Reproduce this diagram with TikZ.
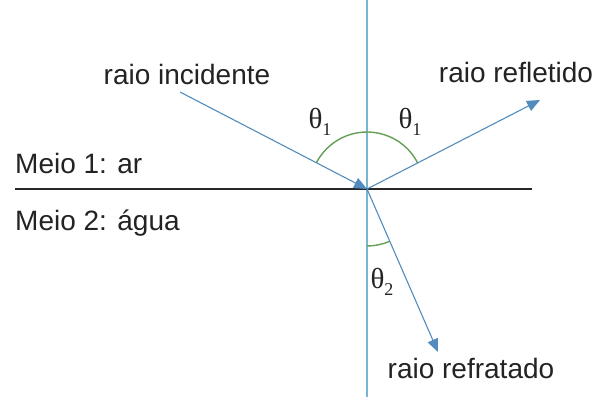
\documentclass[tikz,border=0pt]{standalone}
\usepackage{fontspec}
\setmainfont{Liberation Sans}
\newfontfamily\thserif{Liberation Serif}
\usetikzlibrary{arrows.meta}
\definecolor{raycol}{RGB}{82,140,190}
\definecolor{normcol}{RGB}{120,180,212}
\definecolor{arccol}{RGB}{100,160,85}
\definecolor{txtcol}{RGB}{35,35,35}
\newcommand{\thsym}[1]{{\thserif\fontsize{29}{29}\selectfont θ\raisebox{-0.25em}{\fontsize{18}{18}\selectfont #1}}}
\begin{document}
\begin{tikzpicture}[x=1pt,y=1pt,
  ray/.style={draw=raycol,line width=1.1pt,-{Triangle[length=13pt,width=11pt]}},
  lbl/.style={font=\fontsize{28}{28}\selectfont,text=txtcol,inner sep=0pt,anchor=base},
  thlbl/.style={text=txtcol,inner sep=0pt,anchor=base},
  angarc/.style={draw=arccol,line width=1.4pt}]
\useasboundingbox (0,0) rectangle (599,397);
\fill[white] (0,0) rectangle (599,397);
\coordinate (O) at (367,208);
\coordinate (Itop) at (367,397);
\coordinate (Ibot) at (367,0);
\coordinate (L) at (15,208);
\coordinate (R) at (532,208);
\coordinate (Ain) at (180,305);
\coordinate (Aref) at (540,297);
\coordinate (Afr) at (438,45);
% normal
\draw[normcol,line width=1.1pt] (Itop) -- (Ibot);
% interface
\draw[black!85,line width=2.6pt] (L) -- (R);
% arcs
\draw[angarc] ([shift={(27.2:57)}]O) arc[start angle=27.2,end angle=152.6,radius=57];
\draw[angarc] ([shift={(-90:57)}]O) arc[start angle=-90,end angle=-66.5,radius=57];
% rays
\draw[ray] (Ain) -- (O);
\draw[ray] (O) -- (Aref);
\draw[ray] (O) -- (Afr);
% labels
\node[lbl] (tinc) at (187,312) {raio incidente};
\node[lbl] (tref) at (516,314) {raio refletido};
\node[lbl] (tfr) at (471,19) {raio refratado};
\node[lbl,anchor=base west] (m1) at (15,224) {Meio 1: ar};
\node[lbl,anchor=base west] (m2) at (15,167) {Meio 2: água};
\node[thlbl] (th1a) at (320,269) {\thsym{1}};
\node[thlbl] (th1b) at (410,269) {\thsym{1}};
\node[thlbl] (th2) at (382,109) {\thsym{2}};
\end{tikzpicture}
\end{document}
